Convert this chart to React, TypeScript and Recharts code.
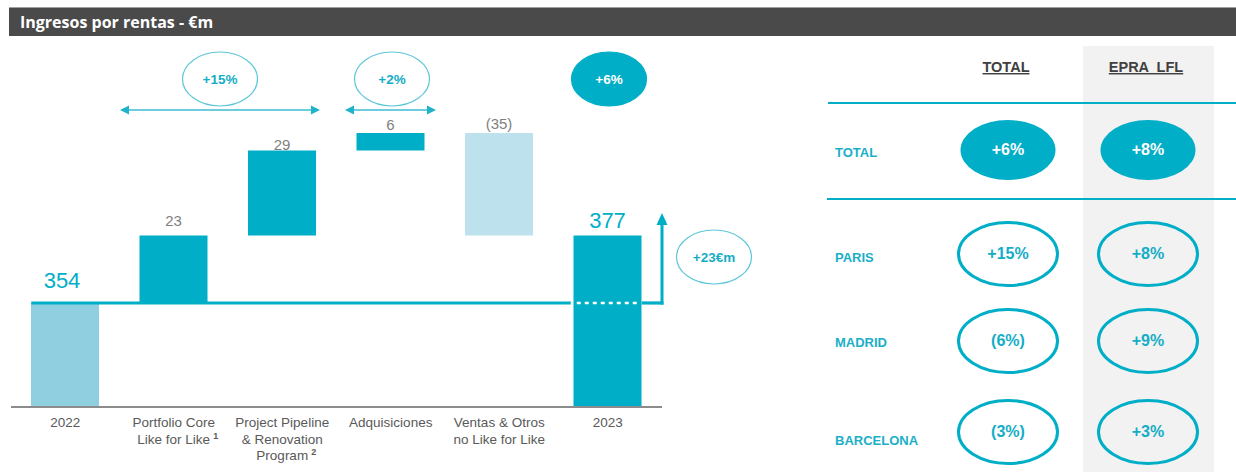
import React from 'react';
import { BarChart, Bar, XAxis, YAxis, Cell, LabelList, ReferenceLine } from 'recharts';

// ---------- data ----------
const categories = [
  '2022',
  'Portfolio Core Like for Like',
  'Project Pipeline & Renovation Program',
  'Adquisiciones',
  'Ventas & Otros no Like for Like',
  '2023',
];
const tickLines = [
  ['2022'],
  ['Portfolio Core', 'Like for Like'],
  ['Project Pipeline', '& Renovation', 'Program'],
  ['Adquisiciones'],
  ['Ventas & Otros', 'no Like for Like'],
  ['2023'],
];
const tickNotes = ['', '1', '2', '', '', ''];
const AXIS_FLOOR = 318.5;
const AXIS_TOP = 440;
const barLow = [AXIS_FLOOR, 354, 377, 406, 377, AXIS_FLOOR];
const barHigh = [354, 377, 406, 412, 412, 377];
const barLabels = ['354', '23', '29', '6', '(35)', '377'];
const startValue = 354;

const bridgeNotes = ['+15%', '+2%', '+6%'];
const deltaNote = '+23€m';

const tableHeaders = ['TOTAL', 'EPRA  LFL'];
const tableRows = ['TOTAL', 'PARIS', 'MADRID', 'BARCELONA'];
const totalGrowth = ['+6%', '+15%', '(6%)', '(3%)'];
const lflGrowth = ['+8%', '+8%', '+9%', '+3%'];

// ---------- styles ----------
const TEAL = '#00AEC7';
const LIGHT_TEAL = '#5CC6D8';
const FONT = '"Liberation Sans", Arial, sans-serif';
const barFills = ['#8FCFE0', TEAL, TEAL, TEAL, '#BDE2EE', TEAL];
const labelGaps = [15, 10, 1, 3, 4, 8];
const BAR_SIZE = 68;

const chartData = categories.map((name, i) => ({ name, range: [barLow[i], barHigh[i]] }));

const BarLabel = (props: any) => {
  const { x, y, width, index } = props;
  const big = index === 0 || index === categories.length - 1;
  return (
    <text
      x={Number(x) + Number(width) / 2 - (index === 0 ? 3 : 0)}
      y={Number(y) - labelGaps[index]}
      textAnchor="middle"
      fill={big ? TEAL : '#7F7F7F'}
      fontSize={big ? 22 : 15}
      fontFamily={FONT}
    >
      {barLabels[index]}
    </text>
  );
};

const AxisTick = (props: any) => {
  const { x, y, payload } = props;
  let i = categories.indexOf(payload.value);
  if (i < 0) i = payload.index ?? 0;
  const lines = tickLines[i];
  return (
    <g>
      {lines.map((ln, k) => {
        const note = k === lines.length - 1 ? tickNotes[i] : '';
        return (
          <text
            key={k}
            x={x + (note ? 4 : 0)}
            y={y + 20 + k * 16.5}
            textAnchor="middle"
            fill="#595959"
            fontSize={13.5}
            fontFamily={FONT}
          >
            {ln}
            {note ? (
              <tspan dx={3} dy={-5} fontSize={9} fontWeight={700}>
                {note}
              </tspan>
            ) : null}
          </text>
        );
      })}
    </g>
  );
};

const BaselineShape = (props: any) => {
  const { x1, x2, y1 } = props;
  const band = (x2 - x1) / categories.length;
  const inset = (band - BAR_SIZE) / 2;
  const lastLeft = x2 - inset - BAR_SIZE;
  const lastRight = x2 - inset;
  return (
    <g>
      <line x1={x1 + inset} x2={lastLeft - 3} y1={y1} y2={y1} stroke={TEAL} strokeWidth={3.2} />
      <line x1={lastLeft + 3} x2={lastRight - 2} y1={y1} y2={y1} stroke="#fff" strokeWidth={2.5} strokeDasharray="4 4" />
      <line x1={lastRight} x2={x2 + 1.5} y1={y1} y2={y1} stroke={TEAL} strokeWidth={3.2} />
      <line x1={x2} x2={x2} y1={y1 + 1.6} y2={y1 - 80} stroke={TEAL} strokeWidth={3} />
      <polygon points={`${x2},${y1 - 90} ${x2 - 5.5},${y1 - 78} ${x2 + 5.5},${y1 - 78}`} fill={TEAL} />
    </g>
  );
};

const DoubleArrow = ({ xa, xb, y }: { xa: number; xb: number; y: number }) => (
  <g>
    <line x1={xa + 6} x2={xb - 6} y1={y} y2={y} stroke="#3DBCD0" strokeWidth={1.6} />
    <polygon points={`${xa},${y} ${xa + 9},${y - 4.5} ${xa + 9},${y + 4.5}`} fill="#1FB3CA" />
    <polygon points={`${xb},${y} ${xb - 9},${y - 4.5} ${xb - 9},${y + 4.5}`} fill="#1FB3CA" />
  </g>
);

const NoteEllipse = ({ cx, cy, text, filled }: { cx: number; cy: number; text: string; filled?: boolean }) => (
  <g>
    <ellipse
      cx={cx}
      cy={cy}
      rx={37.5}
      ry={27}
      fill={filled ? TEAL : 'none'}
      stroke={filled ? TEAL : LIGHT_TEAL}
      strokeWidth={1.2}
    />
    <text
      x={cx}
      y={cy + 4.5}
      textAnchor="middle"
      fill={filled ? '#fff' : '#14ADC6'}
      fontSize={13.5}
      fontWeight={700}
      fontFamily={FONT}
    >
      {text}
    </text>
  </g>
);

const rowY = [150, 254, 341, 432];
const colX = [1008, 1148];

export default function App() {
  return (
    <div style={{ position: 'absolute', left: 0, top: 0, width: 1236, height: 472, background: '#fff', overflow: 'hidden' }}>
      {/* header */}
      <div
        style={{
          position: 'absolute',
          left: 9,
          top: 7,
          width: 1227,
          height: 29,
          background: '#4A4A4A',
          borderTop: '1px solid #A0A0A0',
          boxSizing: 'border-box',
        }}
      >
        <div
          style={{
            position: 'absolute',
            left: 11,
            top: 4,
            color: '#fff',
            fontFamily: '"Open Sans", sans-serif',
            fontWeight: 700,
            fontSize: 16,
            lineHeight: '20px',
            whiteSpace: 'nowrap',
          }}
        >
          Ingresos por rentas - €m
        </div>
      </div>
      {/* grey column */}
      <div style={{ position: 'absolute', left: 1083, top: 46, width: 131, height: 426, background: '#F2F2F2' }} />

      <div style={{ position: 'absolute', left: 0, top: 0 }}>
        <BarChart width={700} height={472} data={chartData} margin={{ top: 51, right: 38, bottom: 0, left: 11 }}>
          <XAxis
            dataKey="name"
            interval={0}
            tickLine={false}
            tickSize={0}
            tickMargin={0}
            height={65}
            axisLine={{ stroke: '#8C8C8C', strokeWidth: 2 }}
            tick={<AxisTick />}
          />
          <YAxis hide type="number" domain={[AXIS_FLOOR, AXIS_TOP]} allowDataOverflow />
          <Bar dataKey="range" barSize={BAR_SIZE} isAnimationActive={false}>
            {chartData.map((d, i) => (
              <Cell key={d.name} fill={barFills[i]} />
            ))}
            <LabelList dataKey="range" content={<BarLabel />} />
          </Bar>
          <ReferenceLine y={startValue} shape={<BaselineShape />} />
        </BarChart>
      </div>

      <svg width={1236} height={472} style={{ position: 'absolute', left: 0, top: 0, pointerEvents: 'none' }}>
        {/* bridge annotations */}
        <NoteEllipse cx={220} cy={79} text={bridgeNotes[0]} />
        <DoubleArrow xa={120} xb={320} y={110} />
        <NoteEllipse cx={392} cy={79} text={bridgeNotes[1]} />
        <DoubleArrow xa={345} xb={436} y={110} />
        <NoteEllipse cx={609} cy={79} text={bridgeNotes[2]} filled />
        <NoteEllipse cx={714} cy={257} text={deltaNote} />

        {/* table */}
        {tableHeaders.map((h, i) => (
          <text
            key={h}
            x={colX[i] - 2}
            y={72}
            textAnchor="middle"
            fill="#404040"
            fontSize={14.5}
            fontWeight={700}
            fontFamily={FONT}
            textDecoration="underline"
            style={{ whiteSpace: 'pre' }}
          >
            {h}
          </text>
        ))}
        <line x1={828} x2={1236} y1={103} y2={103} stroke={TEAL} strokeWidth={2} />
        <line x1={827} x2={1236} y1={199} y2={199} stroke={TEAL} strokeWidth={2} />
        {tableRows.map((r, i) => {
          const first = i === 0;
          return (
            <g key={r}>
              <text x={835} y={[152, 257, 342, 440][i] + 4.5} fill="#1AAFC8" fontSize={13} fontWeight={700} fontFamily={FONT}>
                {r}
              </text>
              {[totalGrowth[i], lflGrowth[i]].map((v, c) => (
                <g key={c}>
                  <ellipse
                    cx={colX[c]}
                    cy={rowY[i]}
                    rx={first ? 47.5 : 49.5}
                    ry={first ? 30 : 31.5}
                    fill={first ? TEAL : 'none'}
                    stroke={TEAL}
                    strokeWidth={first ? 0 : 3}
                  />
                  <text
                    x={colX[c]}
                    y={rowY[i] + 4.5}
                    textAnchor="middle"
                    fill={first ? '#fff' : '#14ADC6'}
                    fontSize={16}
                    fontWeight={700}
                    fontFamily={FONT}
                  >
                    {v}
                  </text>
                </g>
              ))}
            </g>
          );
        })}
      </svg>
    </div>
  );
}
